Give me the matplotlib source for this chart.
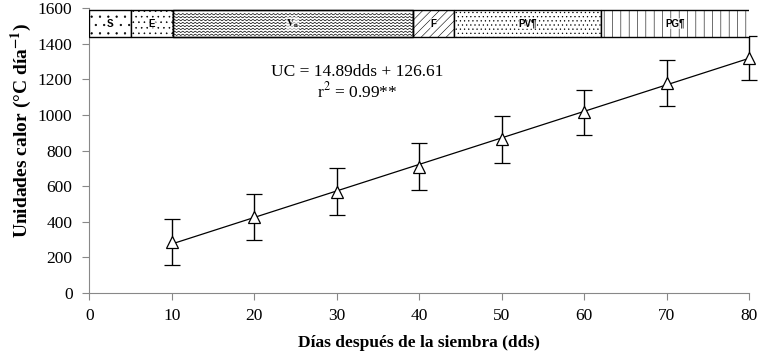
import numpy as np
import matplotlib
matplotlib.use("Agg")
import matplotlib.pyplot as plt
from matplotlib.patches import Rectangle

plt.rcParams["font.family"] = ["Liberation Serif", "DejaVu Serif"]
plt.rcParams["mathtext.fontset"] = "stix"
plt.rcParams["hatch.linewidth"] = 0.4

# days after sowing vs accumulated heat units
dds = [10, 20, 30, 40, 50, 60, 70, 80]
uc = [285, 428, 570, 710, 863, 1015, 1180, 1320]
uc_err = [130, 128, 130, 130, 130, 125, 130, 125]

# linear fit reported on the chart
slope, intercept = 14.89, 126.61
fit_x = [10, 80]

# phenological phases along the top (start, end in dds)
phase_names = ["S", "E", r"$\mathbf{V_n}$", "F", "PV¶", "PG¶"]
phase_start = [0, 5.1, 10.1, 39.2, 44.2, 62.0]
phase_end = [5.1, 10.1, 39.2, 44.2, 62.0, 80.1]
phase_hatch = ["..", "...", None, "////", "....", "||"]
bar_lo, bar_hi = 1438, 1588

fig = plt.figure(figsize=(7.69, 3.51), dpi=100)
ax = fig.add_axes([0.116, 0.165, 0.858, 0.812])

# phase bars sit above the error bars, as in the original
for name, a, b, h in zip(phase_names, phase_start, phase_end, phase_hatch):
    ax.add_patch(Rectangle((a, bar_lo), b - a, bar_hi - bar_lo, facecolor="white",
                           edgecolor="black", hatch=h, linewidth=1.0, zorder=5))
    if h is None:   # wavy fill for the vegetative phase
        xs = np.arange(a, b + 0.25, 0.25)
        for yy in np.arange(bar_lo + 12, bar_hi - 6, 16.5):
            zz = yy + np.where(np.arange(len(xs)) % 2 == 0, -4, 4)
            ax.plot(xs, zz, color="black", lw=0.5, zorder=5.5)
        ax.add_patch(Rectangle((a, bar_lo), b - a, bar_hi - bar_lo, facecolor="none",
                               edgecolor="black", linewidth=1.0, zorder=5.6))
    ax.text((a + b) / 2, (bar_lo + bar_hi) / 2, name, ha="center", va="center",
            family="Liberation Sans", fontweight="bold", fontsize=7, zorder=6,
            bbox=dict(facecolor="white", edgecolor="none", pad=0.3, alpha=0.6))

fx = np.array(fit_x)
ax.plot(fx, slope * fx + intercept, color="black", lw=0.9, zorder=2)
eb = ax.errorbar(dds, uc, yerr=uc_err, fmt="^", ms=9, mfc="white", mec="black", mew=0.9,
                 ecolor="black", elinewidth=1.0, capsize=6, capthick=1.0, zorder=4)
for art in [eb.lines[0], *eb.lines[1], *eb.lines[2]]:
    art.set_clip_on(False)

ax.text(32.5, 1180, "UC = 14.89dds + 126.61\nr$^2$ = 0.99**",
        ha="center", va="center", fontsize=12.5, linespacing=1.1)

ax.set_xlim(0, 80)
ax.set_ylim(0, 1600)
ax.set_xticks(range(0, 81, 10))
ax.set_yticks(range(0, 1601, 200))
for s in ["top", "right"]:
    ax.spines[s].set_visible(False)
for s in ["left", "bottom"]:
    ax.spines[s].set_color("#888888")
ax.tick_params(axis="both", colors="#888888", labelcolor="black", labelsize=12.5,
               length=5, direction="out")
ax.tick_params(axis="y", pad=7)
ax.tick_params(axis="x", pad=6)
ax.set_xlabel("Días después de la siembra (dds)", fontsize=12.5, fontweight="bold", labelpad=8)
ax.set_ylabel(r"Unidades calor (°C día$^{\mathbf{-1}}$)", fontsize=14, fontweight="bold")
ax.yaxis.set_label_coords(-0.083, 0.572)

fig.savefig("out.png", dpi=100)
